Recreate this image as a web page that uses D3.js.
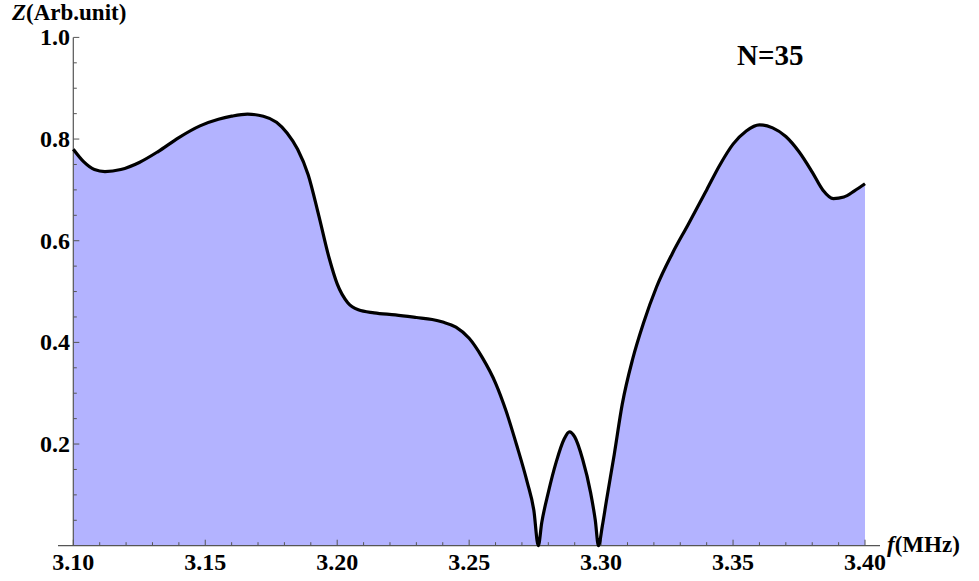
<!DOCTYPE html>
<html>
<head>
<meta charset="utf-8">
<script src="https://cdn.jsdelivr.net/npm/d3@7"></script>
<style>
  body { margin: 0; background: #fff; }
  svg text { font-family: "Liberation Serif", "Times New Roman", serif; font-weight: bold; }
</style>
</head>
<body>
<svg id="chart" width="979" height="581"></svg>
<script>
// frequency (MHz) and impedance (arb. unit)
var freq = [3.100, 3.104, 3.108, 3.112, 3.118, 3.125, 3.132, 3.140, 3.148, 3.155,
            3.160, 3.166, 3.172, 3.177, 3.181, 3.185, 3.189, 3.193, 3.197, 3.200,
            3.204, 3.208, 3.214, 3.222, 3.230, 3.236, 3.240, 3.245, 3.250, 3.255,
            3.260, 3.264, 3.268, 3.272, 3.2745, 3.2762, 3.2775, 3.280, 3.283, 3.286,
            3.288, 3.290, 3.293, 3.296, 3.2978, 3.299, 3.3005, 3.302, 3.305, 3.308,
            3.312, 3.316, 3.321, 3.327, 3.333, 3.340, 3.345, 3.350, 3.355, 3.360,
            3.365, 3.370, 3.375, 3.380, 3.384, 3.388, 3.392, 3.396, 3.400];
var zval = [0.780, 0.755, 0.740, 0.736, 0.740, 0.754, 0.775, 0.803, 0.826, 0.839,
            0.845, 0.849, 0.845, 0.833, 0.812, 0.780, 0.730, 0.650, 0.565, 0.515,
            0.478, 0.464, 0.458, 0.454, 0.449, 0.445, 0.440, 0.430, 0.408, 0.370,
            0.320, 0.265, 0.198, 0.125, 0.070, 0.000, 0.045, 0.105, 0.165, 0.210,
            0.224, 0.214, 0.170, 0.105, 0.050, 0.000, 0.040, 0.088, 0.180, 0.278,
            0.368, 0.437, 0.509, 0.575, 0.632, 0.700, 0.749, 0.790, 0.816, 0.828,
            0.822, 0.805, 0.775, 0.735, 0.700, 0.683, 0.686, 0.698, 0.712];

var xMajor = [3.10, 3.15, 3.20, 3.25, 3.30, 3.35, 3.40];
var xLabels = ["3.10", "3.15", "3.20", "3.25", "3.30", "3.35", "3.40"];
var yMajor = [0.2, 0.4, 0.6, 0.8, 1.0];
var yLabels = ["0.2", "0.4", "0.6", "0.8", "1.0"];

var svg = d3.select("#chart");

var x = d3.scaleLinear().domain([3.10, 3.40]).range([73.3, 865]);
var y = d3.scaleLinear().domain([0, 1]).range([545.7, 37.4]);

var data = freq.map(function (f, i) { return { f: f, z: zval[i] }; });

// filled area under the curve
var area = d3.area()
    .x(function (d) { return x(d.f); })
    .y0(y(0))
    .y1(function (d) { return y(d.z); })
    .curve(d3.curveMonotoneX);

svg.append("path")
    .datum(data)
    .attr("d", area)
    .attr("fill", "#b3b3ff")
    .attr("stroke", "none");

// axes lines
var axisColor = "#555";
svg.append("line")
    .attr("x1", 58).attr("x2", 880)
    .attr("y1", y(0)).attr("y2", y(0))
    .attr("stroke", axisColor).attr("stroke-width", 1.2);
svg.append("line")
    .attr("x1", x(3.10)).attr("x2", x(3.10))
    .attr("y1", y(1)).attr("y2", y(0))
    .attr("stroke", axisColor).attr("stroke-width", 1.2);

// x ticks (inward), minor every 0.01
var xMinor = d3.range(0, 31).map(function (i) { return 3.10 + i * 0.01; });
svg.append("g").selectAll("line")
    .data(xMinor)
    .enter().append("line")
    .attr("x1", function (d) { return x(d); })
    .attr("x2", function (d) { return x(d); })
    .attr("y1", y(0))
    .attr("y2", function (d, i) { return y(0) - (i % 5 === 0 ? 6 : 3.5); })
    .attr("stroke", axisColor).attr("stroke-width", 1);

// y ticks (inward), minor every 0.05
var yMinor = d3.range(1, 21).map(function (i) { return i * 0.05; });
svg.append("g").selectAll("line")
    .data(yMinor)
    .enter().append("line")
    .attr("x1", x(3.10))
    .attr("x2", function (d, i) { return x(3.10) + ((i + 1) % 4 === 0 ? 6 : 3.5); })
    .attr("y1", function (d) { return y(d); })
    .attr("y2", function (d) { return y(d); })
    .attr("stroke", axisColor).attr("stroke-width", 1);

// the curve
var line = d3.line()
    .x(function (d) { return x(d.f); })
    .y(function (d) { return y(d.z); })
    .curve(d3.curveMonotoneX);

svg.append("path")
    .datum(data)
    .attr("d", line)
    .attr("fill", "none")
    .attr("stroke", "#000")
    .attr("stroke-width", 3.2)
    .attr("stroke-linejoin", "round");

// tick labels
svg.append("g").selectAll("text")
    .data(xMajor)
    .enter().append("text")
    .attr("x", function (d) { return x(d); })
    .attr("y", 570)
    .attr("text-anchor", "middle")
    .attr("font-size", 24)
    .text(function (d, i) { return xLabels[i]; });

svg.append("g").selectAll("text")
    .data(yMajor)
    .enter().append("text")
    .attr("x", 70)
    .attr("y", function (d) { return y(d) + 8; })
    .attr("text-anchor", "end")
    .attr("font-size", 24)
    .text(function (d, i) { return yLabels[i]; });

// axis titles
var yt = svg.append("text").attr("x", 12).attr("y", 19.5).attr("font-size", 23);
yt.append("tspan").attr("font-style", "italic").text("Z");
yt.append("tspan").text("(Arb.unit)");

var xt = svg.append("text").attr("x", 887).attr("y", 552).attr("font-size", 23);
xt.append("tspan").attr("font-style", "italic").text("f");
xt.append("tspan").text("(MHz)");

svg.append("text")
    .attr("x", 737).attr("y", 65)
    .attr("font-size", 29)
    .text("N=35");
</script>
</body>
</html>
